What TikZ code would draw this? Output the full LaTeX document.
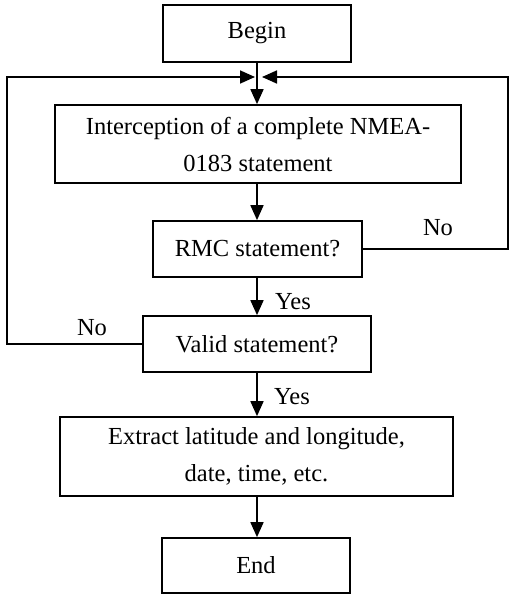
\documentclass[tikz,border=0pt]{standalone}
\usepackage{fontspec}
\setmainfont{Liberation Serif}
\usetikzlibrary{arrows.meta}
\begin{document}
\begin{tikzpicture}[x=1pt,y=-1pt,
  box/.style={draw,line width=1.7pt,align=center,inner sep=0pt,
    font=\fontsize{24.5}{37}\selectfont},
  lbl/.style={font=\fontsize{24.5}{29}\selectfont,inner sep=0pt},
  flow/.style={line width=1.7pt,-{Triangle[length=15pt,width=13pt]}},
  wire/.style={line width=1.7pt}]
\useasboundingbox (0,0) rectangle (509,596);

\node[box,minimum width=188pt,minimum height=57pt] (begin) at (257,33.5) {Begin};
\node[box,minimum width=406pt,minimum height=78pt] (intercept) at (258,144)
  {Interception of a complete NMEA-\\0183 statement};
\node[box,minimum width=209pt,minimum height=56pt] (rmc) at (257.5,249) {RMC statement?};
\node[box,minimum width=228pt,minimum height=56pt] (valid) at (257,344) {Valid statement?};
\node[box,minimum width=393pt,minimum height=79pt] (extract) at (256.5,456.5)
  {Extract latitude and longitude,\\date, time, etc.};
\node[box,minimum width=188pt,minimum height=55pt] (finish) at (256,565.5) {End};

% merge points of the two feedback loops above the interception box
\coordinate (mergeL) at (255,77);
\coordinate (mergeR) at (262,77);
\coordinate (loopL) at (7,344);
\coordinate (loopR) at (508,249);

\draw[flow] (begin.south -| 257,0) -- (intercept.north -| 257,0);
\draw[flow] (intercept.south -| 257,0) -- (rmc.north -| 257,0);
\draw[flow] (rmc.south -| 257,0) -- (valid.north -| 257,0);
\draw[flow] (valid.south -| 257,0) -- (extract.north -| 257,0);
\draw[flow] (extract.south -| 257,0) -- (finish.north -| 257,0);

\draw[flow] (valid.west) -- (loopL) |- (mergeL);
\draw[flow] (rmc.east) -- (loopR) |- (mergeR);

\node[lbl] (noR) at (438,228) {No};
\node[lbl] (yes1) at (293,302) {Yes};
\node[lbl] (noL) at (92,328) {No};
\node[lbl] (yes2) at (292,397) {Yes};
\end{tikzpicture}
\end{document}
